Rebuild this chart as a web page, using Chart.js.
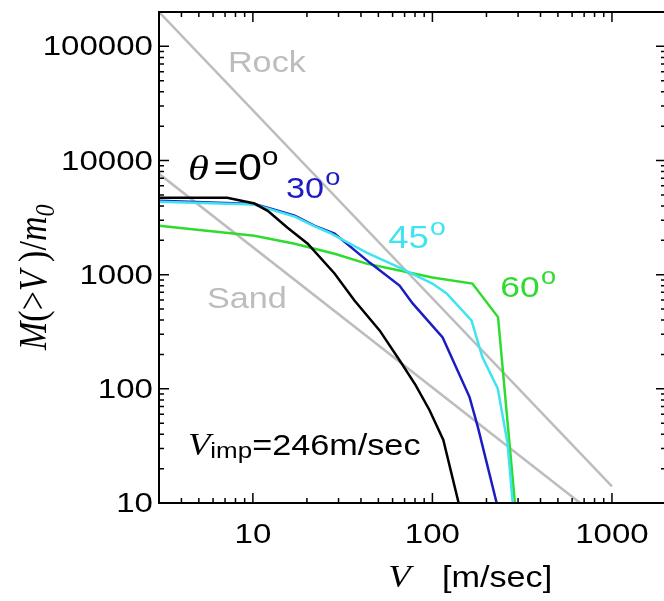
<!DOCTYPE html>
<html lang="en">
<head>
    <meta charset="UTF-8">
    <title>Ejecta mass vs velocity</title>
    <script src="https://cdn.jsdelivr.net/npm/chart.js@4.4.1/dist/chart.umd.min.js"></script>
    <style>
        body {
            margin: 0;
            padding: 0;
            background: #ffffff;
            overflow: hidden;
        }
        #wrap {
            width: 672px;
            height: 601px;
        }
    </style>
</head>
<body>
    <div id="wrap">
        <canvas id="ejecta" width="672" height="601"></canvas>
    </div>

    <script>
        // axis ranges and tick labels
        const xRange = [3, 2000];
        const yRange = [10, 200000];
        const xTicks = [10, 100, 1000];
        const yTicks = [10, 100, 1000, 10000, 100000];

        // theta = 0
        const v00 = [3, 7.2, 10.2, 12.1, 15.6, 20.2, 28.5, 36.8, 50.8, 65.6, 80.6, 96.4, 115, 140];
        const m00 = [4710, 4710, 4200, 3620, 2580, 1870, 1024, 594, 325, 178, 108, 65, 35.7, 10];
        // theta = 30
        const v30 = [3, 10.2, 13.2, 17.1, 22.1, 28.5, 44.7, 65.6, 77.6, 114, 161, 179, 228];
        const m30 = [4440, 4170, 3700, 3280, 2680, 2290, 1276, 803, 560, 282, 84.7, 46.4, 10];
        // theta = 45
        const v45 = [3, 10.2, 17.1, 22.1, 26.7, 43, 65.6, 100, 120, 165, 190, 231, 262, 280];
        const m45 = [4350, 4120, 3230, 2650, 2330, 1560, 1153, 836, 684, 398, 189, 101, 33.6, 10];
        // theta = 60
        const v60 = [3, 10.2, 17.1, 28.5, 43, 65.6, 100, 167, 232, 288];
        const m60 = [2680, 2190, 1867, 1527, 1250, 1087, 944, 836, 425, 10];
        // reference power laws
        const vRock = [3, 1000];
        const mRock = [200000, 14];
        const vSand = [3, 665];
        const mSand = [7650, 10];

        const SX = 1.18; // the original figure is a bit wide
        const SANS = '"Liberation Sans", Arial, sans-serif';
        const SERIF = '"Liberation Serif", "Times New Roman", serif';

        function pts(xs, ys) {
            return xs.map((x, i) => ({ x: x, y: ys[i] }));
        }

        function line(label, xs, ys, color) {
            return {
                label: label,
                data: pts(xs, ys),
                borderColor: color,
                borderWidth: 2.5,
                pointRadius: 0,
                showLine: true,
                tension: 0,
                fill: false
            };
        }

        // draw a run of text pieces, stretched horizontally
        function rich(ctx, x, y, parts) {
            ctx.save();
            ctx.translate(x, y);
            ctx.scale(SX, 1);
            ctx.textBaseline = 'alphabetic';
            ctx.textAlign = 'left';
            let cx = 0;
            parts.forEach(p => {
                ctx.font = p.font;
                ctx.fillStyle = p.color || '#000';
                ctx.fillText(p.t, cx + (p.dx || 0), p.dy || 0);
                cx += ctx.measureText(p.t).width + (p.dx || 0);
            });
            ctx.restore();
        }

        // superscript "o" used as degree mark, as in the original
        function deg(color, size) {
            return { t: 'o', font: (size || 23) + 'px ' + SANS, color: color, dy: -13, dx: 1 };
        }

        const framePlugin = {
            id: 'frame',
            afterDraw: (chart) => {
                const ctx = chart.ctx;
                const a = chart.chartArea;
                const xs = chart.scales.x;
                const ys = chart.scales.y;

                ctx.save();
                ctx.strokeStyle = '#000';
                ctx.lineWidth = 2;
                ctx.strokeRect(a.left, a.top, a.right - a.left, a.bottom - a.top);

                // inward ticks on all four sides
                ctx.lineWidth = 1.5;
                ctx.beginPath();
                for (let e = 0; e <= 4; e++) {
                    for (let k = 1; k <= 9; k++) {
                        const v = k * Math.pow(10, e);
                        const len = k === 1 ? 10 : 5;
                        if (v >= xRange[0] && v <= xRange[1]) {
                            const px = xs.getPixelForValue(v);
                            ctx.moveTo(px, a.bottom); ctx.lineTo(px, a.bottom - len);
                            ctx.moveTo(px, a.top); ctx.lineTo(px, a.top + len);
                        }
                        const w = k * Math.pow(10, e + 1);
                        if (w >= yRange[0] && w <= yRange[1]) {
                            const py = ys.getPixelForValue(w);
                            ctx.moveTo(a.left, py); ctx.lineTo(a.left + len, py);
                            ctx.moveTo(a.right, py); ctx.lineTo(a.right - len, py);
                        }
                    }
                }
                ctx.stroke();

                // tick labels
                const tf = '28px ' + SANS;
                xTicks.forEach(v => {
                    const px = xs.getPixelForValue(v);
                    ctx.save();
                    ctx.translate(px, a.bottom + 40);
                    ctx.scale(SX, 1);
                    ctx.font = tf;
                    ctx.fillStyle = '#000';
                    ctx.textAlign = 'center';
                    ctx.fillText(String(v), 0, 0);
                    ctx.restore();
                });
                yTicks.forEach(v => {
                    const py = ys.getPixelForValue(v);
                    ctx.save();
                    ctx.translate(a.left - 6, py + 9);
                    ctx.scale(SX, 1);
                    ctx.font = tf;
                    ctx.fillStyle = '#000';
                    ctx.textAlign = 'right';
                    ctx.fillText(String(v), 0, 0);
                    ctx.restore();
                });

                // x axis title
                rich(ctx, xs.getPixelForValue(56.7), a.bottom + 84, [
                    { t: 'V', font: 'italic 31px ' + SERIF }
                ]);
                rich(ctx, xs.getPixelForValue(113), a.bottom + 84, [
                    { t: '[m/sec]', font: '29px ' + SANS }
                ]);

                // y axis title, rotated
                ctx.save();
                ctx.translate(46, ys.getPixelForValue(219));
                ctx.rotate(-Math.PI / 2);
                ctx.scale(1, SX);
                ctx.fillStyle = '#000';
                let cx = 0;
                [
                    { t: 'M', font: 'italic 34px ' + SERIF },
                    { t: '(>', font: '34px ' + SERIF },
                    { t: 'V', font: 'italic 34px ' + SERIF },
                    { t: ' )/', font: '34px ' + SERIF },
                    { t: 'm', font: 'italic 34px ' + SERIF },
                    { t: '0', font: 'italic 24px ' + SERIF, dy: 7 }
                ].forEach(p => {
                    ctx.font = p.font;
                    ctx.fillText(p.t, cx, p.dy || 0);
                    cx += ctx.measureText(p.t).width;
                });
                ctx.restore();

                // annotations, anchored in data space
                const at = (v, m) => [xs.getPixelForValue(v), ys.getPixelForValue(m)];
                let p;
                p = at(7.26, 59400);
                rich(ctx, p[0], p[1], [{ t: 'Rock', font: '29px ' + SANS, color: '#bdbdbd' }]);
                p = at(5.55, 510);
                rich(ctx, p[0], p[1], [{ t: 'Sand', font: '29px ' + SANS, color: '#bdbdbd' }]);
                p = at(4.35, 6730);
                rich(ctx, p[0], p[1], [
                    { t: '\u03b8', font: 'italic 36px ' + SERIF },
                    { t: '=0', font: '36px ' + SANS, dx: 4 },
                    { t: 'o', font: '25px ' + SANS, dy: -15, dx: 0 }
                ]);
                p = at(15.3, 4690);
                rich(ctx, p[0], p[1], [{ t: '30', font: '29px ' + SANS, color: '#1c1cc4' }, deg('#1c1cc4')]);
                p = at(56.7, 1710);
                rich(ctx, p[0], p[1], [{ t: '45', font: '31px ' + SANS, color: '#3ee4f0' }, deg('#3ee4f0', 24)]);
                p = at(239, 637);
                rich(ctx, p[0], p[1], [{ t: '60', font: '30px ' + SANS, color: '#2edc2e' }, deg('#2edc2e')]);
                p = at(4.35, 26.3);
                rich(ctx, p[0], p[1], [
                    { t: 'V', font: 'italic 31px ' + SERIF },
                    { t: 'imp', font: '22px ' + SANS, dy: 3 },
                    { t: '=246m/sec', font: '29px ' + SANS }
                ]);
                ctx.restore();
            }
        };

        const config = {
            type: 'scatter',
            data: {
                datasets: [
                    line('0', v00, m00, '#000000'),
                    line('45', v45, m45, '#3ee4f0'),
                    line('30', v30, m30, '#1c1cc4'),
                    line('60', v60, m60, '#2edc2e'),
                    line('Rock', vRock, mRock, '#bdbdbd'),
                    line('Sand', vSand, mSand, '#bdbdbd')
                ]
            },
            options: {
                responsive: false,
                animation: false,
                layout: {
                    padding: { left: 159, top: 12, right: 6, bottom: 98 }
                },
                plugins: {
                    legend: { display: false },
                    tooltip: { enabled: false }
                },
                scales: {
                    x: {
                        type: 'logarithmic',
                        min: xRange[0],
                        max: xRange[1],
                        display: false
                    },
                    y: {
                        type: 'logarithmic',
                        min: yRange[0],
                        max: yRange[1],
                        display: false
                    }
                }
            },
            plugins: [framePlugin]
        };

        new Chart(document.getElementById('ejecta').getContext('2d'), config);
    </script>
</body>
</html>
